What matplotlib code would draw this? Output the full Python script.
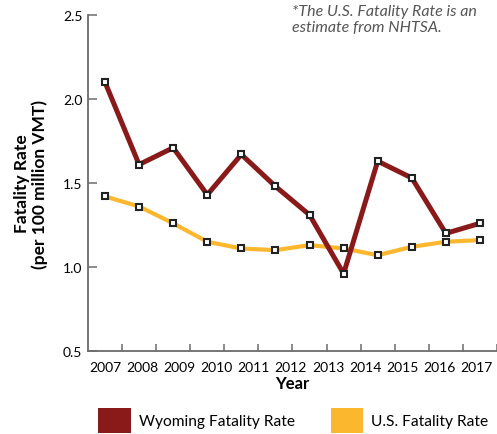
import numpy as np
import matplotlib
matplotlib.use('Agg')
import matplotlib.pyplot as plt
from matplotlib.patches import Patch

plt.rcParams['font.family'] = ['Lato', 'DejaVu Sans']

# values (12 points, 11 year labels)
wyoming_rate = [2.10, 1.61, 1.71, 1.43, 1.67, 1.48, 1.31, 0.96, 1.63, 1.53, 1.20, 1.26]
us_rate = [1.42, 1.36, 1.26, 1.15, 1.11, 1.10, 1.13, 1.11, 1.07, 1.12, 1.15, 1.16]
year_labels = ['2007', '2008', '2009', '2010', '2011', '2012',
               '2013', '2014', '2015', '2016', '2017']
y_ticks = [0.5, 1.0, 1.5, 2.0, 2.5]

red = '#8a1919'
gold = '#fbb82f'
spine_col = '#6b6b6b'

x = np.arange(len(wyoming_rate))

fig = plt.figure(figsize=(4.97, 4.35), dpi=100)
ax = fig.add_axes([0.177, 0.191, 0.823, 0.772])

marker_kw = dict(marker='s', markersize=4.6, markerfacecolor='white',
                 markeredgecolor='#222222', markeredgewidth=1.5)
ax.plot(x, us_rate, color=gold, linewidth=3.0, zorder=2, **marker_kw)
ax.plot(x, wyoming_rate, color=red, linewidth=3.6, zorder=3, **marker_kw)

ax.set_xlim(-0.5, 11.5)
ax.set_ylim(0.5, 2.5)

for side in ['top', 'right']:
    ax.spines[side].set_visible(False)
for side in ['left', 'bottom']:
    ax.spines[side].set_color(spine_col)
    ax.spines[side].set_linewidth(1.3)

ax.set_yticks(y_ticks)
ax.set_yticklabels([f'{v:.1f}' for v in y_ticks])
ax.tick_params(axis='y', direction='in', length=6.5, width=1.1, color=spine_col,
               labelsize=10, pad=4)

# tick marks between points, year labels spread on their own positions
ax.set_xticks(np.arange(0.5, 12, 1))
ax.set_xticklabels([])
ax.tick_params(axis='x', which='major', direction='in', length=5, width=1.1,
               color=spine_col)
ax.set_xticks(np.linspace(0, 10.9, len(year_labels)), minor=True)
ax.set_xticklabels(year_labels, minor=True)
ax.tick_params(axis='x', which='minor', length=0, labelsize=10, pad=7)

ax.set_xlabel('Year', fontsize=12, fontweight='bold', labelpad=1.5)
ax.set_ylabel('Fatality Rate\n(per 100 million VMT)', fontsize=12.5,
              fontweight='bold', linespacing=1.1, labelpad=11)

fig.text(0.587, 0.988, '*The U.S. Fatality Rate is an\nestimate from NHTSA.',
         fontsize=11.5, style='italic', color='#555555', va='top', ha='left',
         linespacing=1.15)

handles = [Patch(facecolor=red), Patch(facecolor=gold)]
fig.legend(handles, ['Wyoming Fatality Rate', 'U.S. Fatality Rate'],
           loc='lower left', bbox_to_anchor=(0.176, -0.022), ncol=2, frameon=False,
           fontsize=11.2, handlelength=2.1, handleheight=2.05,
           handletextpad=0.5, columnspacing=2.3, borderpad=0.2)

fig.savefig('out.png', dpi=100)
